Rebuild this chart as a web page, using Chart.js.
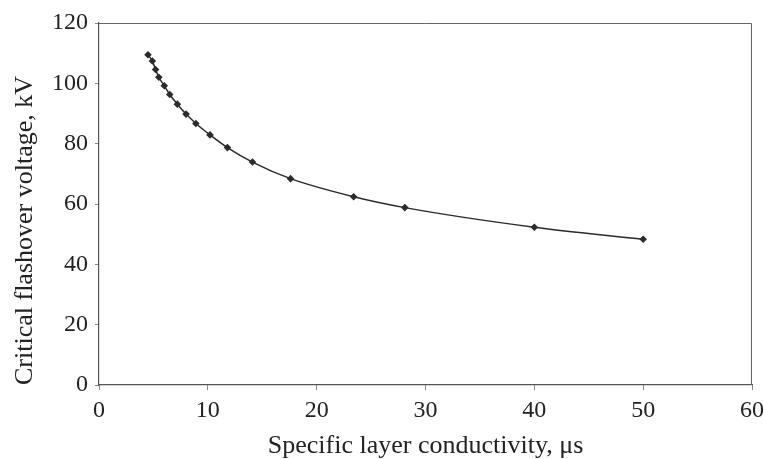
<!DOCTYPE html>
<html>
<head>
<meta charset="utf-8">
<script src="https://cdn.jsdelivr.net/npm/chart.js@4"></script>
<style>
  html, body { margin: 0; padding: 0; background: #fff; }
  #wrap { width: 764px; height: 459px; }
</style>
</head>
<body>
<div id="wrap"><canvas id="flashoverChart" width="764" height="459"></canvas></div>
<script>
// conductivity (μs) and critical flashover voltage (kV)
const conductivity = [4.5, 4.9, 5.2, 5.5, 6.0, 6.5, 7.2, 8.0, 8.9, 10.2, 11.8, 14.1, 17.6, 23.4, 28.1, 40.0, 50.0];
const flashoverKV = [109.5, 107.4, 104.6, 102.0, 99.2, 96.3, 93.1, 89.8, 86.7, 82.9, 78.7, 73.9, 68.4, 62.4, 58.8, 52.3, 48.3];
const xTicks = [0, 10, 20, 30, 40, 50, 60];
const yTicks = [0, 20, 40, 60, 80, 100, 120];

const serif = "'Liberation Serif', 'DejaVu Serif', serif";

// thin frame on top and right of the plot area
const frame = {
    id: 'frame',
    afterDraw(chart) {
        const a = chart.chartArea;
        const ctx = chart.ctx;
        ctx.save();
        ctx.strokeStyle = '#666';
        ctx.lineWidth = 1;
        ctx.beginPath();
        ctx.moveTo(a.left, a.top + 0.5);
        ctx.lineTo(a.right - 0.5, a.top + 0.5);
        ctx.lineTo(a.right - 0.5, a.bottom);
        ctx.stroke();
        ctx.restore();
    }
};

const ctx = document.getElementById('flashoverChart').getContext('2d');
new Chart(ctx, {
    type: 'line',
    data: {
        datasets: [{
            label: 'Critical flashover voltage',
            data: conductivity.map((x, i) => ({ x: x, y: flashoverKV[i] })),
            borderColor: '#2b2b2b',
            borderWidth: 1.5,
            backgroundColor: '#2b2b2b',
            pointStyle: 'rectRot',
            pointRadius: 3.8,
            pointBorderWidth: 0,
            cubicInterpolationMode: 'monotone',
            fill: false
        }]
    },
    options: {
        responsive: false,
        animation: false,
        layout: { padding: { top: 23, right: 12, left: 0, bottom: 0 } },
        plugins: {
            legend: { display: false },
            tooltip: { enabled: false }
        },
        scales: {
            x: {
                type: 'linear',
                min: 0,
                max: 60,
                afterBuildTicks: s => { s.ticks = xTicks.map(v => ({ value: v })); },
                afterFit: s => { s.height = 74; s.paddingLeft = 0; s.paddingRight = 0; },
                ticks: { color: '#222', padding: 6, font: { family: serif, size: 24 } },
                grid: { drawOnChartArea: false, drawTicks: true, tickLength: 5, color: '#888' },
                border: { display: true, color: '#555', width: 1.2 },
                title: {
                    display: true,
                    text: 'Specific layer conductivity, μs',
                    color: '#222',
                    font: { family: serif, size: 26, lineHeight: 1 },
                    padding: { top: 0, bottom: 0 }
                }
            },
            y: {
                type: 'linear',
                min: 0,
                max: 120,
                afterBuildTicks: s => { s.ticks = yTicks.map(v => ({ value: v })); },
                afterFit: s => { s.width = 99; s.paddingTop = 0; s.paddingBottom = 0; },
                ticks: { color: '#222', padding: 7, font: { family: serif, size: 24 } },
                grid: { drawOnChartArea: false, drawTicks: true, tickLength: 4, color: '#888' },
                border: { display: true, color: '#555', width: 1.2 },
                title: {
                    display: true,
                    text: 'Critical flashover voltage, kV',
                    align: 'start',
                    color: '#222',
                    font: { family: serif, size: 26, lineHeight: 1 },
                    padding: { top: 12, bottom: 0 }
                }
            }
        }
    },
    plugins: [frame]
});
</script>
</body>
</html>
